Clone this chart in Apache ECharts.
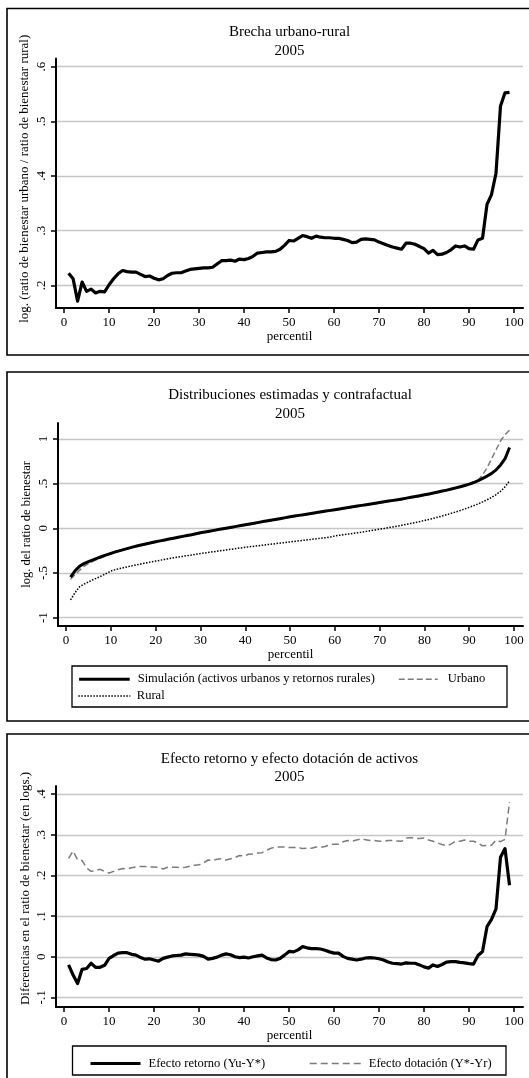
<!DOCTYPE html>
<html>
<head>
<meta charset="utf-8">
<script src="https://cdn.jsdelivr.net/npm/echarts@6/dist/echarts.min.js"></script>
<style>
  html, body { margin: 0; padding: 0; background: #fff; }
  #chart { width: 529px; height: 1078px; }
</style>
</head>
<body>
<div id="chart"></div>
<script>
// percentiles 1..99 (x axis of every panel)
const percentil = Array.from({ length: 99 }, (_, i) => i + 1);
const xTicks = [0, 10, 20, 30, 40, 50, 60, 70, 80, 90, 100];

// panel 1: brecha urbano-rural
const brechaTicks = [0.2, 0.3, 0.4, 0.5, 0.6];
const brecha = [
  0.222, 0.212, 0.171, 0.206, 0.189, 0.193, 0.186, 0.189, 0.188, 0.201,
  0.212, 0.221, 0.227, 0.225, 0.224, 0.224, 0.220, 0.216, 0.217, 0.213,
  0.210, 0.212, 0.218, 0.222, 0.223, 0.223, 0.226, 0.229, 0.230, 0.231,
  0.232, 0.232, 0.233, 0.239, 0.245, 0.245, 0.246, 0.244, 0.248, 0.247,
  0.249, 0.253, 0.259, 0.260, 0.261, 0.261, 0.262, 0.266, 0.273, 0.282,
  0.281, 0.286, 0.291, 0.289, 0.286, 0.290, 0.288, 0.287, 0.287, 0.286,
  0.286, 0.284, 0.282, 0.278, 0.279, 0.284, 0.285, 0.284, 0.283, 0.279,
  0.276, 0.273, 0.270, 0.268, 0.266, 0.277, 0.277, 0.275, 0.271, 0.267,
  0.259, 0.264, 0.256, 0.257, 0.260, 0.265, 0.272, 0.270, 0.272, 0.267,
  0.266, 0.283, 0.286, 0.348, 0.366, 0.405, 0.528, 0.552, 0.553
];

// panel 2: distribuciones estimadas y contrafactual
const distTicks = [-1, -0.5, 0, 0.5, 1];
const simulacion = [
  -0.545, -0.475, -0.425, -0.395, -0.372, -0.352, -0.333, -0.315, -0.297, -0.280,
  -0.264, -0.249, -0.235, -0.221, -0.207, -0.195, -0.184, -0.173, -0.162, -0.151,
  -0.140, -0.130, -0.120, -0.110, -0.100, -0.090, -0.081, -0.072, -0.061, -0.050,
  -0.041, -0.032, -0.023, -0.014, -0.005, 0.004, 0.013, 0.022, 0.031, 0.040,
  0.049, 0.058, 0.067, 0.076, 0.085, 0.094, 0.102, 0.111, 0.120, 0.129,
  0.137, 0.145, 0.153, 0.161, 0.169, 0.177, 0.185, 0.193, 0.201, 0.209,
  0.217, 0.225, 0.233, 0.241, 0.249, 0.257, 0.265, 0.273, 0.281, 0.289,
  0.297, 0.305, 0.313, 0.321, 0.329, 0.338, 0.347, 0.356, 0.365, 0.375,
  0.385, 0.395, 0.406, 0.417, 0.428, 0.440, 0.453, 0.466, 0.480, 0.495,
  0.513, 0.535, 0.560, 0.585, 0.615, 0.655, 0.710, 0.780, 0.905
];
const urbano = [
  -0.570, -0.520, -0.470, -0.425, -0.395, -0.370, -0.347, -0.325, -0.305, -0.287,
  -0.270, -0.254, -0.240, -0.226, -0.212, -0.200, -0.189, -0.178, -0.167, -0.156,
  -0.145, -0.135, -0.125, -0.115, -0.105, -0.095, -0.086, -0.077, -0.066, -0.055,
  -0.046, -0.037, -0.028, -0.019, -0.010, -0.001, 0.008, 0.017, 0.026, 0.035,
  0.044, 0.053, 0.062, 0.071, 0.080, 0.089, 0.097, 0.106, 0.115, 0.124,
  0.132, 0.140, 0.148, 0.156, 0.164, 0.172, 0.180, 0.188, 0.196, 0.204,
  0.212, 0.220, 0.228, 0.236, 0.244, 0.252, 0.260, 0.268, 0.276, 0.284,
  0.292, 0.300, 0.308, 0.316, 0.324, 0.333, 0.342, 0.351, 0.360, 0.370,
  0.380, 0.390, 0.401, 0.412, 0.423, 0.435, 0.448, 0.461, 0.475, 0.490,
  0.508, 0.538, 0.600, 0.680, 0.780, 0.880, 0.980, 1.050, 1.100
];
const rural = [
  -0.800, -0.720, -0.655, -0.625, -0.600, -0.575, -0.553, -0.530, -0.505, -0.478,
  -0.462, -0.450, -0.438, -0.427, -0.416, -0.406, -0.396, -0.386, -0.376, -0.366,
  -0.357, -0.348, -0.339, -0.330, -0.322, -0.314, -0.306, -0.298, -0.290, -0.282,
  -0.275, -0.268, -0.261, -0.254, -0.247, -0.240, -0.233, -0.226, -0.219, -0.212,
  -0.206, -0.200, -0.194, -0.188, -0.182, -0.176, -0.170, -0.164, -0.158, -0.152,
  -0.146, -0.140, -0.134, -0.128, -0.122, -0.116, -0.110, -0.104, -0.097, -0.085,
  -0.078, -0.071, -0.064, -0.057, -0.050, -0.042, -0.034, -0.026, -0.018, -0.010,
  -0.002, 0.007, 0.016, 0.025, 0.035, 0.045, 0.055, 0.065, 0.076, 0.088,
  0.100, 0.112, 0.125, 0.139, 0.153, 0.168, 0.184, 0.200, 0.217, 0.235,
  0.254, 0.274, 0.296, 0.320, 0.347, 0.378, 0.415, 0.465, 0.530
];

// panel 3: efecto retorno y efecto dotacion
const efectoTicks = [-0.1, 0, 0.1, 0.2, 0.3, 0.4];
const efectoRetorno = [
  -0.020, -0.045, -0.066, -0.031, -0.029, -0.016, -0.026, -0.026, -0.021, -0.004,
  0.003, 0.009, 0.010, 0.010, 0.006, 0.004, -0.002, -0.006, -0.005, -0.008,
  -0.011, -0.004, -0.001, 0.002, 0.003, 0.004, 0.007, 0.006, 0.005, 0.004,
  0.001, -0.006, -0.004, -0.001, 0.004, 0.007, 0.005, 0.000, -0.002, -0.001,
  -0.003, 0.000, 0.002, 0.004, -0.003, -0.007, -0.008, -0.004, 0.004, 0.013,
  0.012, 0.017, 0.025, 0.022, 0.020, 0.020, 0.019, 0.016, 0.012, 0.009,
  0.009, 0.001, -0.004, -0.006, -0.008, -0.006, -0.003, -0.002, -0.003, -0.005,
  -0.008, -0.013, -0.016, -0.017, -0.018, -0.015, -0.016, -0.016, -0.020, -0.025,
  -0.028, -0.020, -0.024, -0.019, -0.013, -0.012, -0.012, -0.014, -0.015, -0.017,
  -0.018, 0.003, 0.013, 0.074, 0.092, 0.118, 0.245, 0.266, 0.176
];
const efectoDotacion = [
  0.242, 0.260, 0.238, 0.237, 0.218, 0.210, 0.212, 0.215, 0.210, 0.206,
  0.210, 0.214, 0.217, 0.216, 0.219, 0.221, 0.222, 0.222, 0.221, 0.221,
  0.220, 0.216, 0.220, 0.220, 0.220, 0.219, 0.220, 0.223, 0.225, 0.226,
  0.231, 0.238, 0.237, 0.240, 0.241, 0.238, 0.241, 0.244, 0.249, 0.248,
  0.252, 0.253, 0.255, 0.256, 0.262, 0.267, 0.270, 0.270, 0.270, 0.269,
  0.269, 0.269, 0.266, 0.267, 0.267, 0.270, 0.269, 0.271, 0.275, 0.277,
  0.277, 0.283, 0.286, 0.284, 0.287, 0.290, 0.288, 0.286, 0.286, 0.284,
  0.284, 0.286, 0.286, 0.285, 0.284, 0.292, 0.293, 0.291, 0.291, 0.292,
  0.287, 0.284, 0.280, 0.276, 0.273, 0.277, 0.284, 0.284, 0.287, 0.284,
  0.284, 0.280, 0.273, 0.274, 0.274, 0.287, 0.283, 0.289, 0.381
];

const FONT = '"Liberation Serif", "DejaVu Serif", serif';
const GRID_COLOR = '#c6c6c6';
const DASH_COLOR = '#7c7c7c';

// Stata-style labels: .5 instead of 0.5
const stataFmt = v => {
  const s = String(Math.round(v * 1000) / 1000);
  return s.replace(/^(-?)0\./, '$1.');
};

const pairs = vals => vals.map((v, i) => [percentil[i], v]);

const makeX = (gridIndex) => ({
  type: 'value',
  gridIndex: gridIndex,
  min: -1.8,
  max: 102,
  name: 'percentil',
  nameLocation: 'middle',
  nameGap: 22,
  nameMoveOverlap: false,
  nameTextStyle: { fontFamily: FONT, fontSize: 13, color: '#000' },
  axisLine: { show: true, onZero: false, lineStyle: { color: '#000', width: 2 } },
  axisTick: { show: true, length: 5, customValues: xTicks, lineStyle: { color: '#000', width: 1.5 } },
  axisLabel: { customValues: xTicks, margin: 8, fontFamily: FONT, fontSize: 13, color: '#000' },
  splitLine: { show: false }
});

// shift moves the rotated title upwards (px)
const makeY = (gridIndex, min, max, ticks, title, nameGap, nameSize, shift) => ({
  type: 'value',
  gridIndex: gridIndex,
  min: min,
  max: max,
  name: title,
  nameLocation: 'middle',
  nameRotate: 90,
  nameGap: nameGap,
  nameMoveOverlap: false,
  nameTextStyle: {
    fontFamily: FONT, fontSize: nameSize, color: '#000',
    padding: [0, 0, 0, shift * 2]
  },
  axisLine: { show: true, onZero: false, lineStyle: { color: '#000', width: 2 } },
  axisTick: { show: true, length: 5, customValues: ticks, lineStyle: { color: '#000', width: 1.5 } },
  axisLabel: {
    customValues: ticks, rotate: 90, margin: 8,
    fontFamily: FONT, fontSize: 13, color: '#000', formatter: stataFmt
  },
  splitLine: { show: true, lineStyle: { color: GRID_COLOR, width: 1.3 } }
});

const oneLegend = (name, left, top, lineWidth, itemWidth, textPad) => ({
  data: [name],
  left: left,
  top: top,
  padding: 0,
  itemWidth: itemWidth,
  itemHeight: 12,
  selectedMode: false,
  textStyle: { fontFamily: FONT, fontSize: 12.5, color: '#000', padding: [0, 0, 0, textPad] },
  itemStyle: { color: 'rgba(0,0,0,0)', borderWidth: 0 },
  lineStyle: { width: lineWidth }
});

const chart = echarts.init(document.getElementById('chart'), null, { renderer: 'canvas' });

const titleStyle = { fontFamily: FONT, fontSize: 15, fontWeight: 'normal', color: '#000', lineHeight: 18.5 };

chart.setOption({
  backgroundColor: '#fff',
  animation: false,
  title: [
    { text: 'Brecha urbano-rural\n2005', left: 289.5, top: 23, textAlign: 'center', padding: 0, textStyle: titleStyle },
    { text: 'Distribuciones estimadas y contrafactual\n2005', left: 290, top: 386, textAlign: 'center', padding: 0, textStyle: titleStyle },
    { text: 'Efecto retorno y efecto dotación de activos\n2005', left: 289.5, top: 749.5, textAlign: 'center', padding: 0, textStyle: titleStyle }
  ],
  grid: [
    { left: 56, top: 58.5, width: 467, height: 249.5 },
    { left: 58, top: 423, width: 465, height: 203 },
    { left: 56, top: 786, width: 467, height: 221 }
  ],
  xAxis: [makeX(0), makeX(1), makeX(2)],
  yAxis: [
    makeY(0, 0.1585, 0.6148, brechaTicks,
      'log. (ratio de bienestar urbano / ratio de bienestar rural)', 24.5, 13, 4.5),
    makeY(1, -1.093, 1.179, distTicks, 'log. del ratio de bienestar', 24.8, 12.5, 0),
    makeY(2, -0.1236, 0.42, efectoTicks,
      'Diferencias en el ratio de bienestar (en logs.)', 24.3, 13, 8)
  ],
  legend: [
    oneLegend('Simulación (activos urbanos y retornos rurales)', 77.6, 672.7, 3, 50.6, 3),
    oneLegend('Urbano', 398, 672.7, 1.5, 39, 5),
    oneLegend('Rural', 77.6, 689.5, 1.5, 52, 1.5),
    oneLegend('Efecto retorno (Yu-Y*)', 89, 1057, 3, 50, 3),
    oneLegend('Efecto dotación (Y*-Yr)', 309, 1057, 1.5, 54, 0)
  ],
  series: [
    { name: 'Brecha', type: 'line', xAxisIndex: 0, yAxisIndex: 0, symbol: 'none',
      data: pairs(brecha), lineStyle: { color: '#000', width: 3.2, join: 'round' } },
    { name: 'Rural', type: 'line', xAxisIndex: 1, yAxisIndex: 1, symbol: 'none',
      data: pairs(rural), itemStyle: { color: '#000' },
      lineStyle: { color: '#000', width: 1.5, type: [1.5, 1.5] } },
    { name: 'Urbano', type: 'line', xAxisIndex: 1, yAxisIndex: 1, symbol: 'none',
      data: pairs(urbano), itemStyle: { color: DASH_COLOR },
      lineStyle: { color: DASH_COLOR, width: 1.5, type: [6, 3] } },
    { name: 'Simulación (activos urbanos y retornos rurales)', type: 'line', xAxisIndex: 1, yAxisIndex: 1,
      symbol: 'none', data: pairs(simulacion), itemStyle: { color: '#000' },
      lineStyle: { color: '#000', width: 3, join: 'round' } },
    { name: 'Efecto dotación (Y*-Yr)', type: 'line', xAxisIndex: 2, yAxisIndex: 2, symbol: 'none',
      data: pairs(efectoDotacion), itemStyle: { color: DASH_COLOR },
      lineStyle: { color: DASH_COLOR, width: 1.5, type: [7, 4] } },
    { name: 'Efecto retorno (Yu-Y*)', type: 'line', xAxisIndex: 2, yAxisIndex: 2, symbol: 'none',
      data: pairs(efectoRetorno), itemStyle: { color: '#000' },
      lineStyle: { color: '#000', width: 3.2, join: 'round' } }
  ],
  graphic: [
    // panel frames (right edge falls outside the picture)
    { type: 'rect', shape: { x: 7, y: 8.5, width: 540, height: 346.5 }, style: { fill: 'none', stroke: '#000', lineWidth: 1.6 } },
    { type: 'rect', shape: { x: 7, y: 372, width: 540, height: 349 }, style: { fill: 'none', stroke: '#000', lineWidth: 1.6 } },
    { type: 'rect', shape: { x: 7, y: 734, width: 540, height: 400 }, style: { fill: 'none', stroke: '#000', lineWidth: 1.6 } },
    // legend boxes
    { type: 'rect', shape: { x: 72, y: 666, width: 435, height: 41 }, style: { fill: 'none', stroke: '#000', lineWidth: 1.3 } },
    { type: 'rect', shape: { x: 72.5, y: 1046, width: 433.5, height: 29 }, style: { fill: 'none', stroke: '#000', lineWidth: 1.3 } }
  ]
});
</script>
</body>
</html>
